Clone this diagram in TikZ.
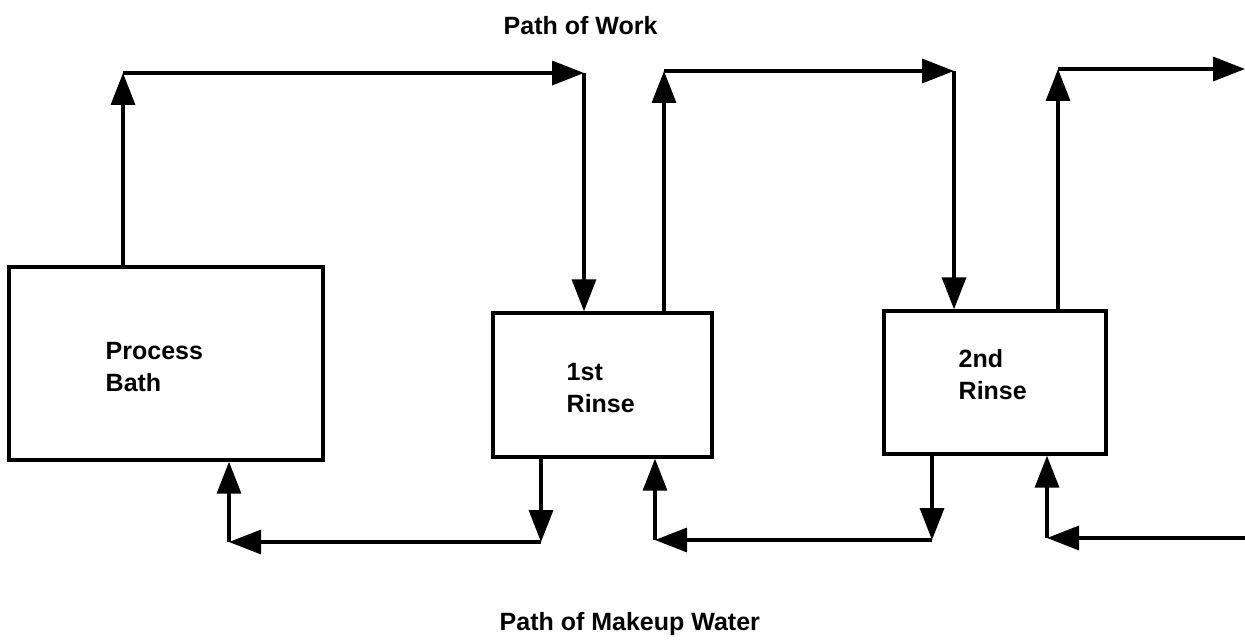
\documentclass[tikz,border=0pt]{standalone}
\usepackage{fontspec}
\setmainfont{Liberation Sans}
\usetikzlibrary{arrows.meta}

\begin{document}
\begin{tikzpicture}[x=0.5pt,y=-0.5pt,line width=1.7pt,
    flow/.style={-{Triangle[length=16pt,width=12pt]}},
    lbl/.style={font=\bfseries\fontsize{12.5}{16}\selectfont,inner sep=0pt,align=left}]
      \useasboundingbox (0,0) rectangle (1245,641);
      \node (work)[lbl,anchor=base west] at (502,35) {Path of Work};
      \node (water)[lbl,anchor=base west] at (498,630) {Path of Makeup Water};
      \begin{scope}[every node/.style={rectangle,draw,line width=1.7pt,inner sep=0pt}]
        \node (bath)[minimum width=157pt,minimum height=96.5pt] at (166,363.5) {};
        \node (rinse1)[minimum width=109.5pt,minimum height=72pt] at (602.5,385) {};
        \node (rinse2)[minimum width=111pt,minimum height=71.5pt] at (995,382.5) {};
      \end{scope}
      \node (bathtext)[lbl,anchor=west] at (104,367) {Process\\Bath};
      \node (rinse1text)[lbl,anchor=west] at (565,388) {1st\\Rinse};
      \node (rinse2text)[lbl,anchor=west] at (957,375) {2nd\\Rinse};
      % path of work
      \coordinate (w1) at (123,73);
      \coordinate (w2) at (584,73);
      \coordinate (w3) at (664,71);
      \coordinate (w4) at (954,71);
      \coordinate (w5) at (1058,69);
      \coordinate (w6) at (1245,69);
      % path of makeup water
      \coordinate (m1) at (541,542);
      \coordinate (m2) at (229,542);
      \coordinate (m3) at (932,540);
      \coordinate (m4) at (655,540);
      \coordinate (m5) at (1245,538);
      \coordinate (m6) at (1047,538);
      \begin{scope}[every edge/.style={draw,flow}]
        \path (bath.north -| w1) edge (w1);
        \path (w1) edge (w2);
        \path (w2) edge (w2 |- rinse1.north);
        \path (rinse1.north -| w3) edge (w3);
        \path (w3) edge (w4);
        \path (w4) edge (w4 |- rinse2.north);
        \path (rinse2.north -| w5) edge (w5);
        \path (w5) edge (w6);
        \path (rinse1.south -| m1) edge (m1);
        \path (m1) edge (m2);
        \path (m2) edge (m2 |- bath.south);
        \path (rinse2.south -| m3) edge (m3);
        \path (m3) edge (m4);
        \path (m4) edge (m4 |- rinse1.south);
        \path (m5) edge (m6);
        \path (m6) edge (m6 |- rinse2.south);
      \end{scope}
\end{tikzpicture}
\end{document}
